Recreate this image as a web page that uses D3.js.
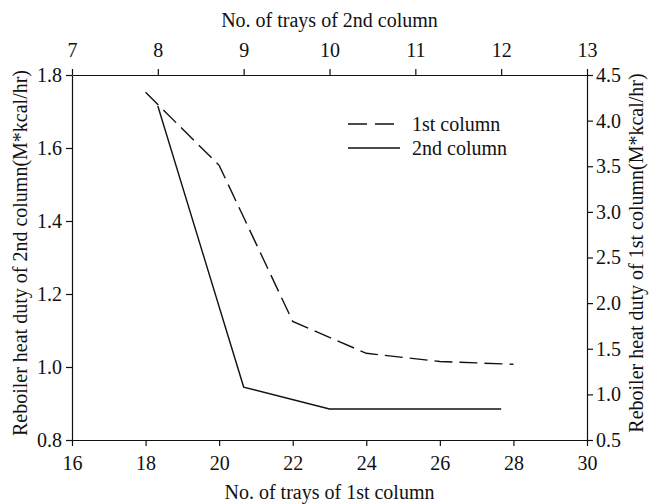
<!DOCTYPE html>
<html>
<head>
<meta charset="utf-8">
<script src="https://cdn.jsdelivr.net/npm/d3@7"></script>
<style>
  body { margin: 0; background: #fff; }
  svg text { font-family: "Liberation Serif", "DejaVu Serif", serif; fill: #111; }
  .axis path, .axis line { stroke: #111; stroke-width: 1.2; }
</style>
</head>
<body>
<svg id="chart" width="651" height="504"></svg>
<script>
// Trays of the 1st column (bottom axis) vs reboiler duty of the 1st column (right axis)
const traysCol1 = [18, 20, 22, 24, 26, 28];
const dutyCol1 = [4.31, 3.51, 1.80, 1.45, 1.36, 1.33];
// Trays of the 2nd column (top axis) vs reboiler duty of the 2nd column (left axis)
const traysCol2 = [8, 9, 10, 11, 12];
const dutyCol2 = [1.715, 0.945, 0.885, 0.885, 0.885];

const bottomTicks = [16, 18, 20, 22, 24, 26, 28, 30];
const topTicks = [7, 8, 9, 10, 11, 12, 13];
const leftTicks = [0.8, 1.0, 1.2, 1.4, 1.6, 1.8];
const rightTicks = [0.5, 1.0, 1.5, 2.0, 2.5, 3.0, 3.5, 4.0, 4.5];

const seriesNames = ["1st column", "2nd column"];

const FONT = "Liberation Serif, DejaVu Serif, serif";
const margin = { left: 72, right: 64, top: 75, bottom: 64 };
const W = 651, H = 504;
const svg = d3.select("#chart");

const xBottom = d3.scaleLinear().domain([16, 30]).range([margin.left, W - margin.right]);
const xTop = d3.scaleLinear().domain([7, 13]).range([margin.left, W - margin.right]);
const yLeft = d3.scaleLinear().domain([0.8, 1.8]).range([H - margin.bottom, margin.top]);
const yRight = d3.scaleLinear().domain([0.5, 4.5]).range([H - margin.bottom, margin.top]);

const fmt0 = d3.format("d");
const fmt1 = d3.format(".1f");

function styleAxis(g) {
  g.attr("font-family", FONT).attr("font-size", 20);
  g.selectAll("text").attr("fill", "#111");
}

svg.append("g").attr("class", "axis")
  .attr("transform", `translate(0,${H - margin.bottom})`)
  .call(d3.axisBottom(xBottom).tickValues(bottomTicks).tickFormat(fmt0).tickSize(6).tickSizeOuter(0).tickPadding(10))
  .call(styleAxis);

svg.append("g").attr("class", "axis")
  .attr("transform", `translate(0,${margin.top})`)
  .call(d3.axisTop(xTop).tickValues(topTicks).tickFormat(fmt0).tickSize(6).tickSizeOuter(0).tickPadding(12))
  .call(styleAxis);

svg.append("g").attr("class", "axis")
  .attr("transform", `translate(${margin.left},0)`)
  .call(d3.axisLeft(yLeft).tickValues(leftTicks).tickFormat(fmt1).tickSize(6).tickSizeOuter(0).tickPadding(4))
  .call(styleAxis);

svg.append("g").attr("class", "axis")
  .attr("transform", `translate(${W - margin.right},0)`)
  .call(d3.axisRight(yRight).tickValues(rightTicks).tickFormat(fmt1).tickSize(6).tickSizeOuter(0).tickPadding(3))
  .call(styleAxis);

// Axis titles
const midX = (margin.left + W - margin.right) / 2;
svg.append("text").attr("x", midX).attr("y", 499)
  .attr("text-anchor", "middle").attr("font-size", 20).text("No. of trays of 1st column");
svg.append("text").attr("x", midX).attr("y", 27)
  .attr("text-anchor", "middle").attr("font-size", 20).text("No. of trays of 2nd column");
svg.append("text").attr("transform", "translate(27,253) rotate(-90)")
  .attr("text-anchor", "middle").attr("font-size", 20).text("Reboiler heat duty of 2nd column(M*kcal/hr)");
svg.append("text").attr("transform", "translate(643,253) rotate(-90)")
  .attr("text-anchor", "middle").attr("font-size", 20).text("Reboiler heat duty of 1st column(M*kcal/hr)");

// Series lines
const line1 = d3.line().x(d => xBottom(d[0])).y(d => yRight(d[1]));
const line2 = d3.line().x(d => xTop(d[0])).y(d => yLeft(d[1]));

svg.append("path")
  .datum(d3.zip(traysCol1, dutyCol1))
  .attr("d", line1).attr("fill", "none").attr("stroke", "#111")
  .attr("stroke-width", 1.4).attr("stroke-dasharray", "18,7");

svg.append("path")
  .datum(d3.zip(traysCol2, dutyCol2))
  .attr("d", line2).attr("fill", "none").attr("stroke", "#111")
  .attr("stroke-width", 1.4);

// Legend
const legend = svg.append("g").attr("transform", "translate(348,124)");
seriesNames.forEach((name, i) => {
  const g = legend.append("g").attr("transform", `translate(0,${i * 24})`);
  g.append("line").attr("x1", 0).attr("x2", i === 0 ? 46 : 52).attr("y1", 0).attr("y2", 0)
    .attr("stroke", "#111").attr("stroke-width", 1.4)
    .attr("stroke-dasharray", i === 0 ? "19,8" : null);
  g.append("text").attr("x", 64).attr("y", 7).attr("font-size", 20).text(name);
});
</script>
</body>
</html>
